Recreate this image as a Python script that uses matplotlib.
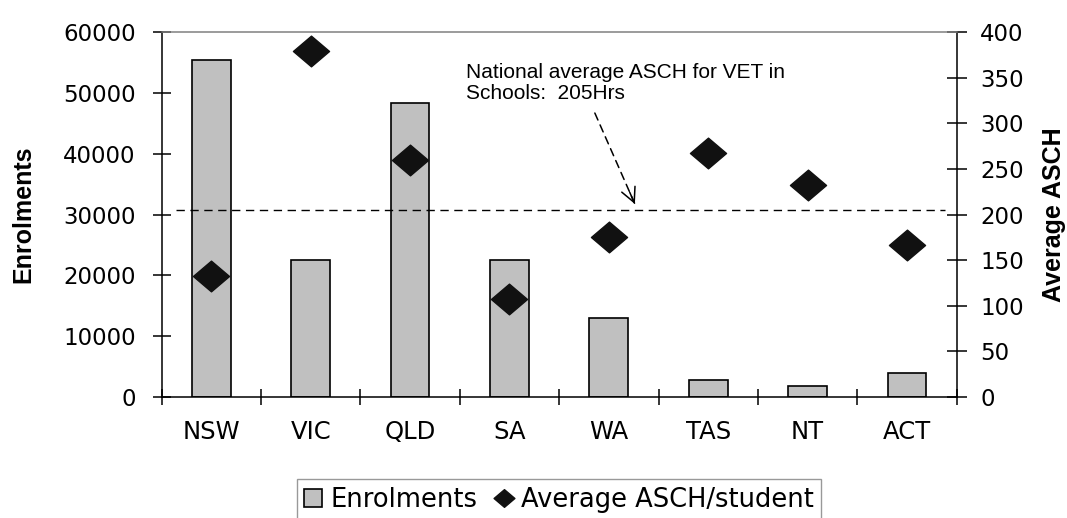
import numpy as np
import matplotlib
matplotlib.use("Agg")
import matplotlib.pyplot as plt
from matplotlib.path import Path
from matplotlib.patches import Patch
from matplotlib.lines import Line2D

# VET in Schools by state
states = ["NSW", "VIC", "QLD", "SA", "WA", "TAS", "NT", "ACT"]
enrolments = [55500, 22500, 48300, 22500, 13000, 2700, 1750, 3950]
avg_asch = [132, 380, 260, 107, 175, 268, 232, 167]
national_avg = 205

y1_ticks = [0, 10000, 20000, 30000, 40000, 50000, 60000]
y2_ticks = [0, 50, 100, 150, 200, 250, 300, 350, 400]

# slightly flattened diamond like the spreadsheet marker
diamond = Path([(-1, 0), (0, 0.85), (1, 0), (0, -0.85), (-1, 0)],
               [Path.MOVETO, Path.LINETO, Path.LINETO, Path.LINETO, Path.CLOSEPOLY])

fig = plt.figure(figsize=(10.67, 5.18), dpi=100)
ax = fig.add_axes([0.1515, 0.2342, 0.7451, 0.7034])
ax2 = ax.twinx()

x = np.arange(len(states))
ax.bar(x, enrolments, width=0.39, color="#c0c0c0", edgecolor="black", linewidth=1.2, zorder=2)
ax.set_xlim(-0.5, len(states) - 0.5)
ax.set_ylim(0, 60000)
ax.set_yticks(y1_ticks)
ax.set_yticklabels([str(v) for v in y1_ticks], fontsize=16.5, family="DejaVu Sans")

# category labels at centres, boundary ticks crossing the axis
ax.set_xticks(x)
ax.set_xticklabels(states, fontsize=17.5, family="DejaVu Sans")
ax.tick_params(axis="x", which="major", length=0, pad=17)
ax.set_xticks(np.arange(-0.5, len(states)), minor=True)
ax.tick_params(axis="x", which="minor", direction="inout", length=11, width=1.1)
ax.tick_params(axis="y", direction="inout", length=13.5, width=1.1, pad=12)

ax.set_ylabel("Enrolments", fontsize=18, fontweight="bold", family="Liberation Sans")
ax.yaxis.label.set_va("center")
ax.yaxis.set_label_coords(-0.1745, 0.5)

ax2.plot(x, avg_asch, linestyle="none", marker=diamond, markersize=26,
         color="#111111", zorder=4)
ax2.set_ylim(0, 400)
ax2.set_yticks(y2_ticks)
ax2.set_yticklabels([str(v) for v in y2_ticks], fontsize=16.5, family="DejaVu Sans")
ax2.tick_params(axis="y", direction="inout", length=14, width=1.1, pad=10)
ax2.set_ylabel("Average ASCH", fontsize=18, fontweight="bold", family="Liberation Sans")
ax2.yaxis.label.set_va("center")
ax2.yaxis.set_label_coords(1.122, 0.5)

# national average reference line
ax2.plot([-0.36, 7.38], [national_avg, national_avg], color="black",
         linestyle=(0, (6, 4)), linewidth=1.0, zorder=3)
ax2.text(2.561, 366, "National average ASCH for VET in\nSchools:  205Hrs",
         fontsize=15, family="Liberation Sans", va="top", ha="left", linespacing=1.1)
# dashed shaft, then a solid open head at the end
ax2.annotate("", xy=(4.262, 211.5), xytext=(3.859, 311.4),
             arrowprops=dict(arrowstyle="-", linestyle=(0, (5, 3.5)), linewidth=1.1,
                             color="black", shrinkA=0, shrinkB=0))
ax2.annotate("", xy=(4.262, 211.5), xytext=(4.21, 224.4),
             arrowprops=dict(arrowstyle="->", linewidth=1.1, color="black",
                             mutation_scale=26, shrinkA=0, shrinkB=0))

for a in (ax, ax2):
    for s in a.spines.values():
        s.set_linewidth(1.1)
ax.spines["top"].set_visible(False)
ax.spines["right"].set_visible(False)
ax2.spines["left"].set_visible(False)
ax2.spines["bottom"].set_visible(False)
ax2.spines["top"].set_color("#808080")

handles = [Patch(facecolor="#c0c0c0", edgecolor="black", linewidth=1.2),
           Line2D([], [], linestyle="none", marker=diamond, markersize=15, color="#111111")]
leg = fig.legend(handles, ["Enrolments", "Average ASCH/student"], loc="upper center",
                 bbox_to_anchor=(0.524, 0.0753), ncol=2, frameon=True, fancybox=False,
                 prop={"family": "DejaVu Sans", "size": 18.5}, handlelength=0.7,
                 handleheight=0.7, handletextpad=0.3, columnspacing=0.7,
                 borderpad=0.3, borderaxespad=0)
leg.get_frame().set_edgecolor("#808080")
leg.get_frame().set_linewidth(1.0)

fig.savefig("out.png", dpi=100)
